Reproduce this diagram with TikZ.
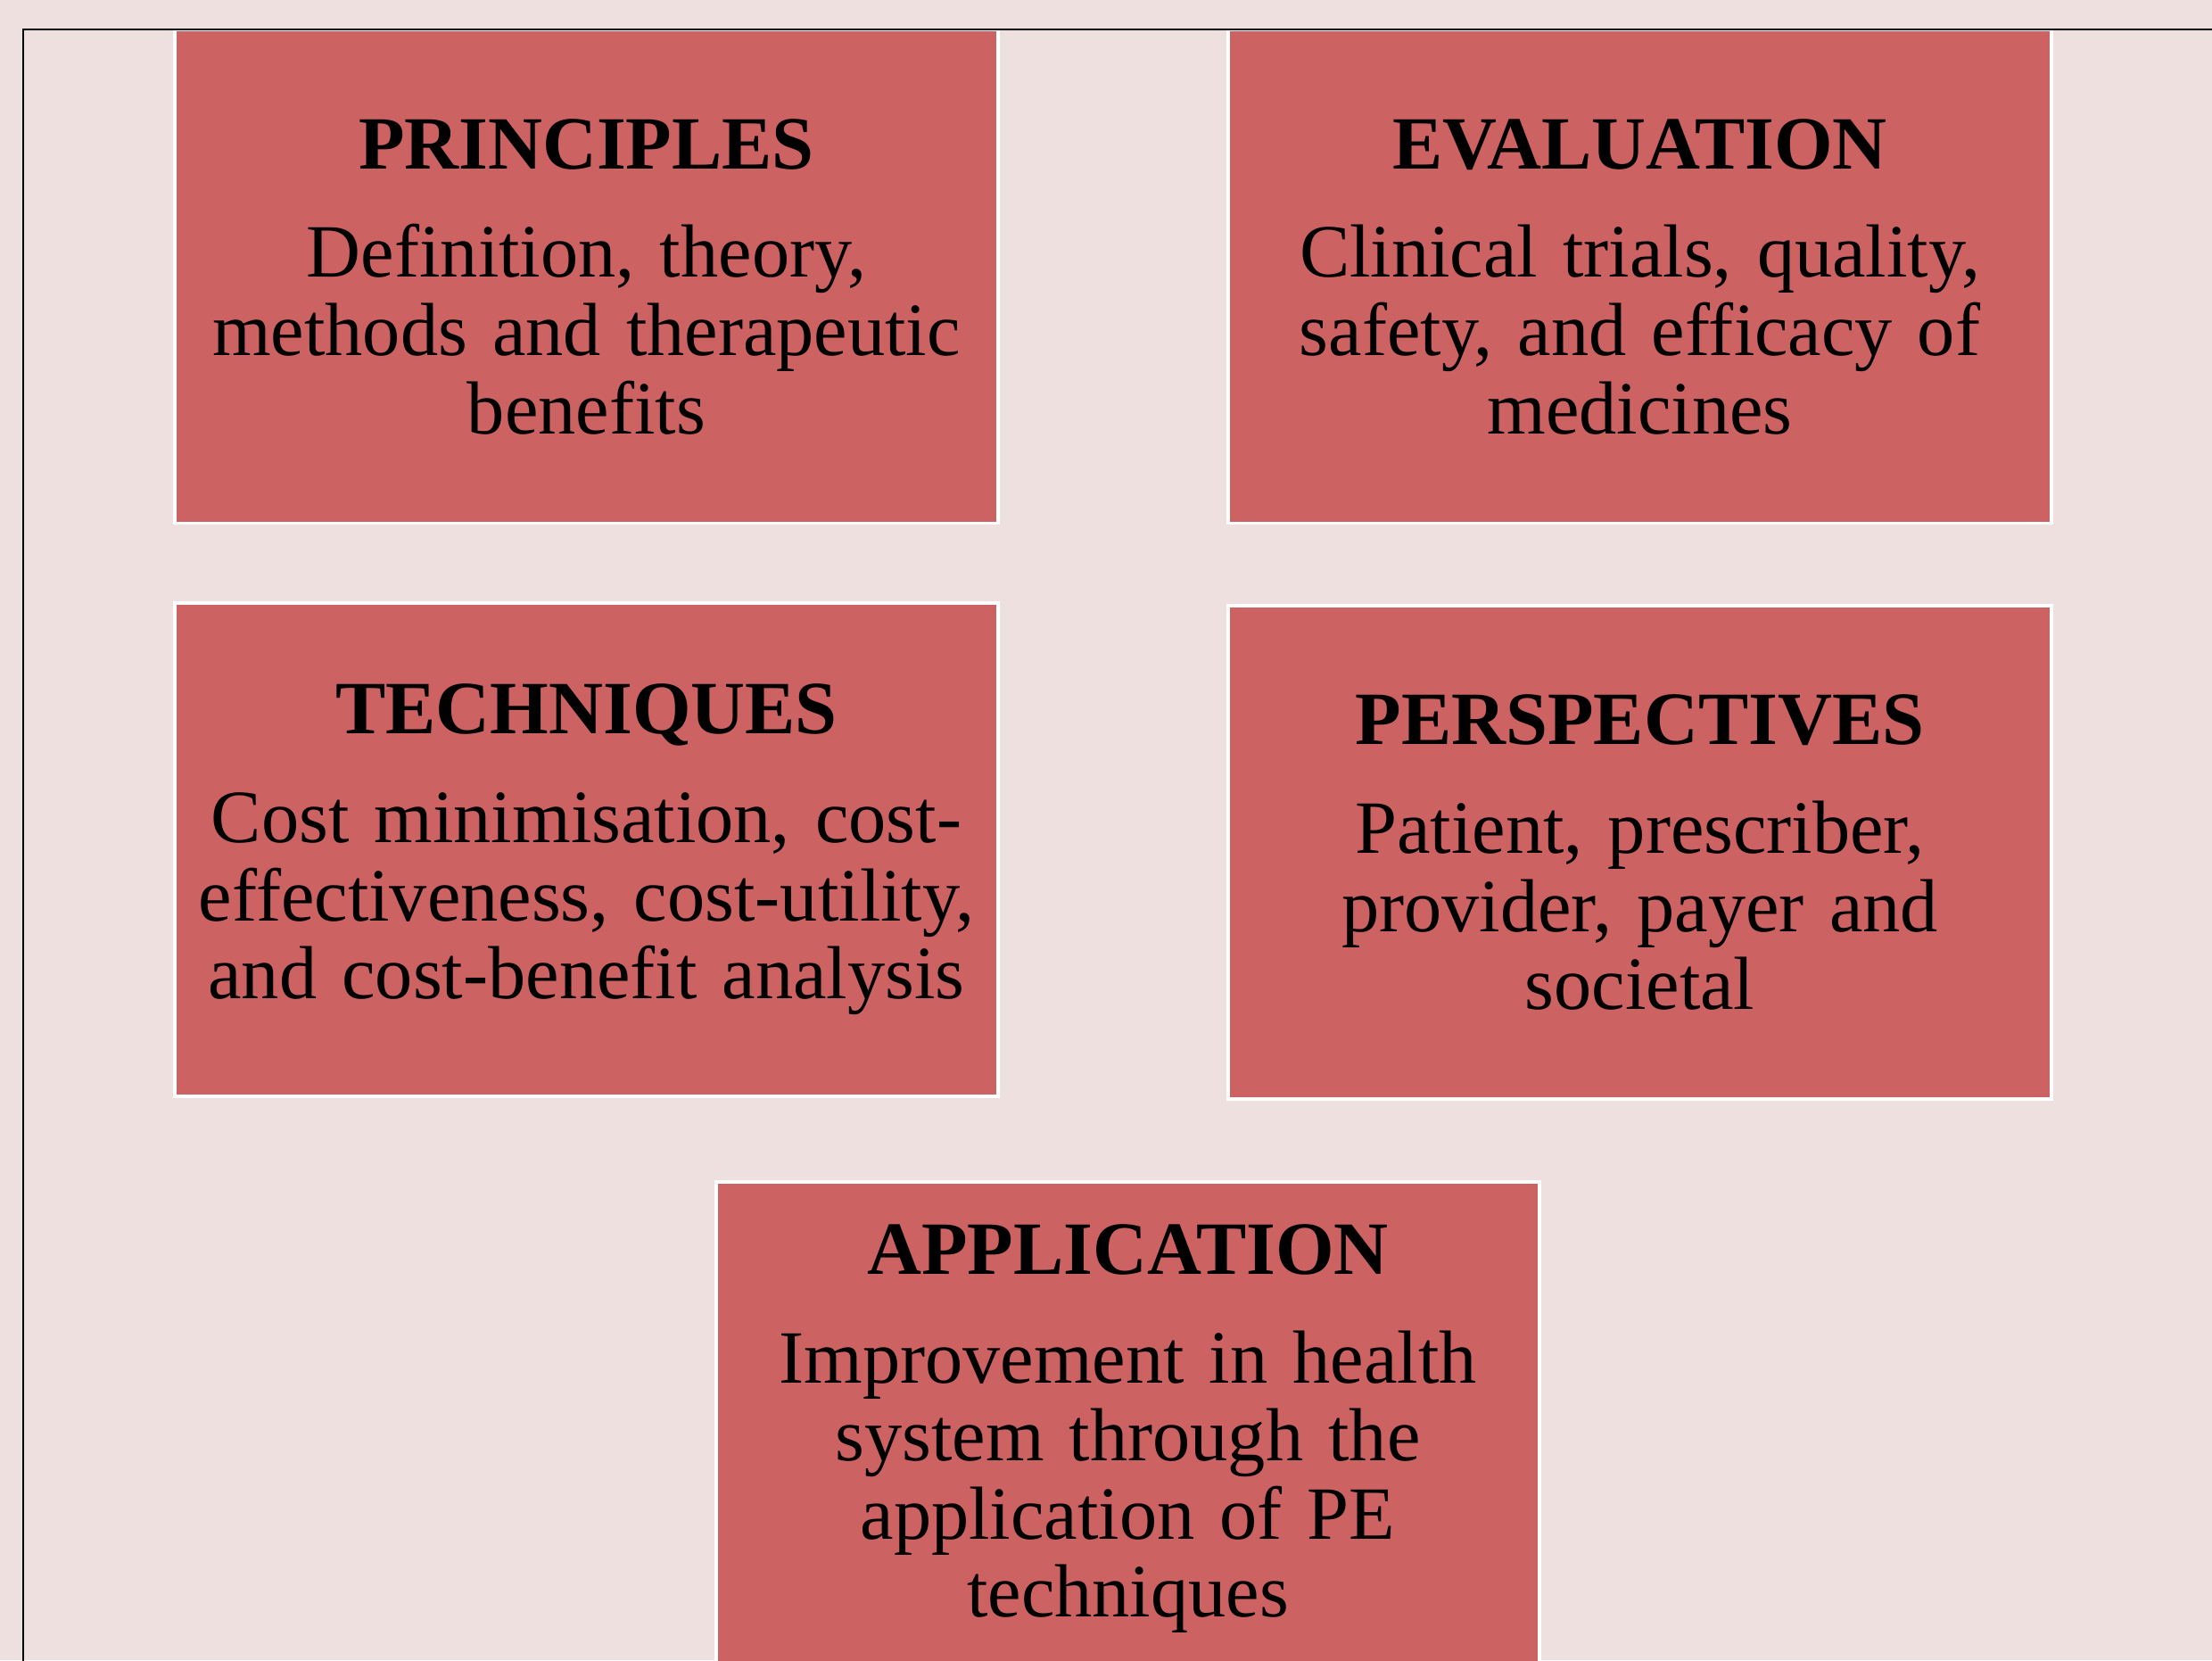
\documentclass[tikz,border=0pt]{standalone}
\usepackage{fontspec}
\setmainfont{Liberation Serif}
\definecolor{pagebg}{HTML}{EFE0E0}
\definecolor{cardred}{HTML}{CD6262}
\tikzset{
  card/.style={draw=white, line width=1pt, fill=cardred, minimum width=9.23cm,
    minimum height=5.53cm, text width=9.1cm, align=center, inner sep=0pt,
    font=\fontsize{24}{24.9}\selectfont},
}
\newcommand{\cardhead}[1]{{\bfseries #1}\\[9.8pt]}

\begin{document}
\begin{tikzpicture}
  \fill[pagebg] (0,0) rectangle (24.8,-18.61);
  \useasboundingbox (0,0) rectangle (24.8,-18.61);
  \clip (0,0) rectangle (24.8,-18.61);
  % top row
  \node[card] (principles) at (6.575,-3.10)
    {\cardhead{PRINCIPLES}Definition, theory,\\ methods and therapeutic\\ benefits};
  \node[card] (evaluation) at (18.385,-3.10)
    {\cardhead{EVALUATION}Clinical trials, quality,\\ safety, and efficacy of\\ medicines};
  % middle row
  \node[card] (techniques) at (6.575,-9.525)
    {\cardhead{TECHNIQUES}Cost minimisation, cost-\\ effectiveness, cost-utility,\\ and cost-benefit analysis};
  \node[card] (perspectives) at (18.385,-9.555)
    {\cardhead{PERSPECTIVES}Patient, prescriber,\\ provider, payer and\\ societal};
  % bottom
  \node[card] (application) at (12.645,-16.015)
    {\cardhead{APPLICATION}Improvement in health\\ system through the\\ application of PE\\ techniques};
  % frame
  \draw[line width=0.6pt] (0.26,-19) -- (0.26,-0.33) -- (25,-0.33);
\end{tikzpicture}
\end{document}
